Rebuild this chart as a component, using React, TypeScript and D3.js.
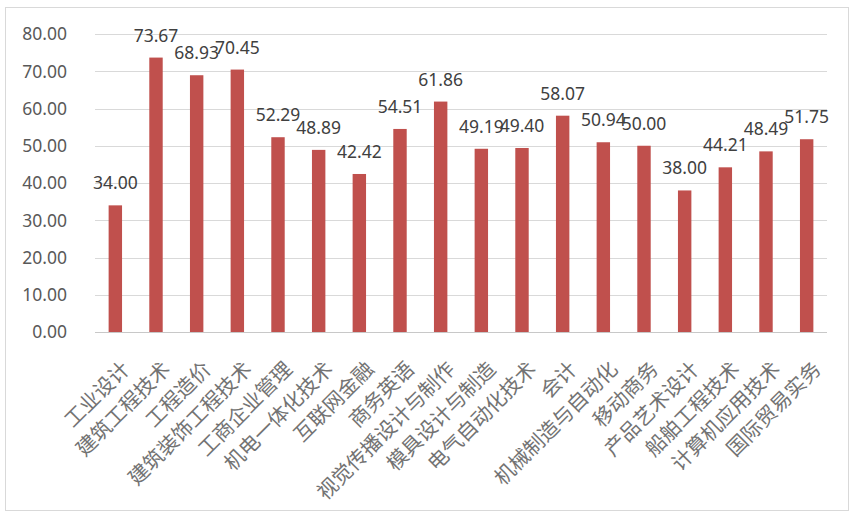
import React from "react";
import * as d3 from "d3";

const categories: string[] = [
  "工业设计", "建筑工程技术", "工程造价", "建筑装饰工程技术", "工商企业管理",
  "机电一体化技术", "互联网金融", "商务英语", "视觉传播设计与制作", "模具设计与制造",
  "电气自动化技术", "会计", "机械制造与自动化", "移动商务", "产品艺术设计",
  "船舶工程技术", "计算机应用技术", "国际贸易实务",
];
const values: number[] = [
  34.0, 73.67, 68.93, 70.45, 52.29, 48.89, 42.42, 54.51, 61.86, 49.19,
  49.4, 58.07, 50.94, 50.0, 38.0, 44.21, 48.49, 51.75,
];
const yTicks: number[] = [0, 10, 20, 30, 40, 50, 60, 70, 80];

const W = 853;
const H = 513;
const plotLeft = 95;
const plotRight = 827;
const plotTop = 34;
const plotBottom = 332;

export default function App() {
  const x = d3
    .scaleBand<string>()
    .domain(categories)
    .range([plotLeft, plotRight])
    .paddingInner(0.67)
    .paddingOuter(0.335);
  const y = d3.scaleLinear().domain([0, 80]).range([plotBottom, plotTop]);
  const numFont = "'Noto Sans', 'DejaVu Sans', sans-serif";
  const lf = 20.5;
  const off = (lf / 2) * Math.SQRT1_2;

  return (
    <svg
      width={W}
      height={H}
      style={{ position: "absolute", left: 0, top: 0, background: "#fff" }}
    >
      <rect x={5.5} y={7.5} width={843} height={503} fill="#fff" stroke="#d9d9d9" strokeWidth={1} />
      {yTicks.map((t) => (
        <g key={t}>
          <line
            x1={plotLeft}
            x2={plotRight}
            y1={Math.round(y(t)) + 0.5}
            y2={Math.round(y(t)) + 0.5}
            stroke={t === 0 ? "#c8c8c8" : "#d9d9d9"}
            strokeWidth={1}
          />
          <text
            x={67}
            y={y(t) + 6.3}
            textAnchor="end"
            fontFamily={numFont}
            fontSize={17.5}
            fill="#595959"
          >
            {t.toFixed(2)}
          </text>
        </g>
      ))}
      {categories.map((c, i) => {
        const v = values[i];
        const bx = x(c) as number;
        const bw = x.bandwidth();
        const cx = bx + bw / 2;
        return (
          <g key={c}>
            <rect x={bx} y={y(v)} width={bw} height={y(0) - y(v)} fill="#C0504D" />
            <text
              x={cx}
              y={y(v) - 16}
              textAnchor="middle"
              fontFamily={numFont}
              fontSize={17.5}
              fill="#404040"
            >
              {v.toFixed(2)}
            </text>
            <text
              transform={`translate(${cx + 2 + off},${357 + off}) rotate(-45)`}
              textAnchor="end"
              dominantBaseline="central"
              fontFamily="'Noto Sans CJK SC', sans-serif"
              fontSize={lf}
              fill="#737373"
            >
              {c}
            </text>
          </g>
        );
      })}
    </svg>
  );
}
